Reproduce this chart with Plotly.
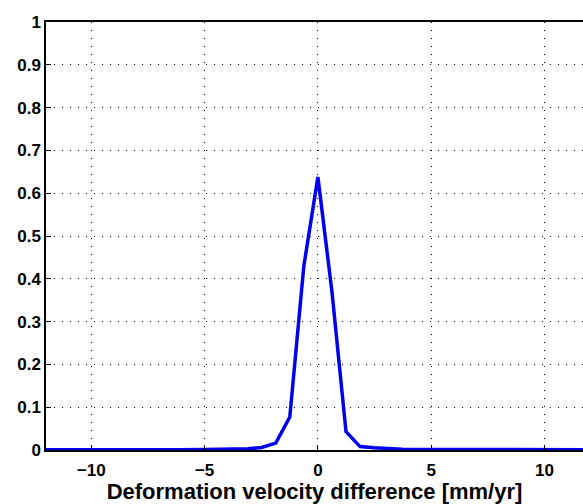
import plotly.graph_objects as go

velocity_diff = [-12.0, -10.9, -9.3, -7.4, -6.2, -4.96, -3.72, -3.1, -2.48, -1.86, -1.24, -0.62, 0.0,
                 0.62, 1.24, 1.86, 2.48, 3.1, 3.72, 4.96, 5.58, 6.2, 8.0, 10.0, 12.0]
frequency = [0.0008, 0.0005, 0.0008, 0.0008, 0.0008, 0.001, 0.002, 0.003, 0.006, 0.016, 0.077, 0.43, 0.638,
             0.37, 0.043, 0.008, 0.005, 0.003, 0.002, 0.001, 0.0, 0.001, 0.001, 0.0005, 0.0005]

x_ticks = [-10, -5, 0, 5, 10]
x_tick_labels = ["\u221210", "\u22125", "0", "5", "10"]
y_ticks = [0, 0.1, 0.2, 0.3, 0.4, 0.5, 0.6, 0.7, 0.8, 0.9, 1]
y_tick_labels = ["0", "0.1", "0.2", "0.3", "0.4", "0.5", "0.6", "0.7", "0.8", "0.9", "1"]

fig = go.Figure()
fig.add_trace(go.Scatter(x=velocity_diff, y=frequency, mode="lines",
                         line=dict(color="#0000EE", width=3.5), showlegend=False))

font_family = "Liberation Sans, Arial, sans-serif"
fig.update_layout(
    width=583, height=504,
    margin=dict(l=46, r=0, t=22, b=54),
    paper_bgcolor="white", plot_bgcolor="white",
    font=dict(family=font_family, color="black"),
    xaxis=dict(range=[-12, 11.7], tickvals=x_ticks, ticktext=x_tick_labels,
               showgrid=True, gridcolor="black", gridwidth=1, griddash="1px,7px",
               showline=True, linecolor="black", linewidth=1.5, mirror=True,
               ticks="inside", ticklen=5, tickcolor="black",
               zeroline=False, ticklabelstandoff=4,
               tickfont=dict(size=17, family=font_family, weight="bold"),
               title=dict(text="<b>Deformation velocity difference [mm/yr]</b>",
                          font=dict(size=22), standoff=1)),
    yaxis=dict(range=[0, 1], tickvals=y_ticks, ticktext=y_tick_labels,
               showgrid=True, gridcolor="black", gridwidth=1, griddash="1px,7px",
               showline=True, linecolor="black", linewidth=1.5,
               ticks="inside", ticklen=5, tickcolor="black",
               zeroline=False,
               tickfont=dict(size=17, family=font_family, weight="bold")),
)

fig.write_html("out.html", config={"displayModeBar": False},
               post_script="document.body.style.margin='0';document.body.style.overflow='hidden';")
